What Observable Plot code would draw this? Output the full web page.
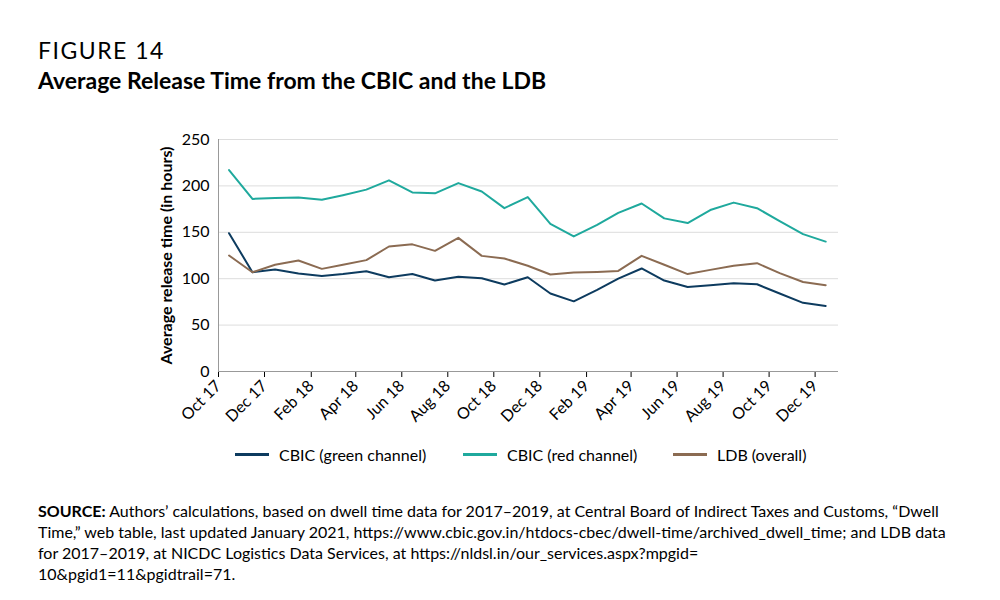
<!DOCTYPE html>
<html><head><meta charset="utf-8">
<script src="https://cdn.jsdelivr.net/npm/d3@7"></script>
<script src="https://cdn.jsdelivr.net/npm/@observablehq/plot@0.6"></script>
<style>
body{margin:0;width:1000px;height:600px;background:#fff;font-family:Lato,"Open Sans",sans-serif;color:#000;position:relative;overflow:hidden}
#fig{position:absolute;left:38px;top:36px;font-size:23px;letter-spacing:1.5px}
#title{position:absolute;left:38px;top:66px;font-size:23px;font-weight:bold}
#chart{position:absolute;left:0;top:120px}
#legend{position:absolute;top:445px;left:0;width:1000px;font-size:16px}
.li{position:absolute;display:flex;align-items:center}
.sw{width:34px;height:2.5px;margin-right:10px}
#src{position:absolute;left:38px;top:500px;width:925px;font-size:16px;line-height:21px}
</style></head><body>
<div id="fig">FIGURE 14</div>
<div id="title">Average Release Time from the CBIC and the LDB</div>
<div id="chart"></div>
<div id="legend"></div>
<div id="src"><b>SOURCE:</b> Authors’ calculations, based on dwell time data for 2017–2019, at Central Board of Indirect Taxes and Customs, “Dwell Time,” web table, last updated January 2021, https://www.cbic.gov.in/htdocs-cbec/dwell-time/archived_dwell_time; and LDB data for 2017–2019, at NICDC Logistics Data Services, at https://nldsl.in/our_services.aspx?mpgid=<br>10&amp;pgid1=11&amp;pgidtrail=71.</div>
<script>
const months = d3.range(27).map(i => new Date(2017, 9 + i, 15));
const seriesNames = ["CBIC (green channel)", "CBIC (red channel)", "LDB (overall)"];
const colors = ["#0d3b5f", "#1fa99d", "#8b6b52"];
const green = [149,107,110,105.5,103,105,108,101.5,105,98,102,100.5,93.7,101.5,84,75.6,88,100,111,98,91,93,95,94,84,74,70.6];
const red = [217,186,187,187.5,185,190,196,206,193,192,203,194,176,188,159,145.5,158,171,181,165,160,174,182,176,162,148,140];
const ldb = [125,107,115,119.6,110.6,115,120,134.7,137,130,144,124.6,121.8,114,104.5,106.6,107.3,108.4,124.6,115,105,109.5,114,116.7,106,96.5,93];
const tickDates = d3.range(14).map(i => new Date(2017, 9 + 2*i, 1));
const fmt = d3.timeFormat("%b %y");

const data = [];
[green, red, ldb].forEach((arr, s) => arr.forEach((v, i) => data.push({date: months[i], value: v, series: seriesNames[s]})));

const plot = Plot.plot({
  width: 1000, height: 320,
  marginLeft: 218, marginRight: 162, marginTop: 19, marginBottom: 69,
  style: {fontFamily: "Lato, 'Open Sans', sans-serif", fontSize: "16px", color: "#000"},
  x: {type: "utc", domain: [new Date(2017, 9, 1), new Date(2020, 0, 1)], ticks: tickDates, tickFormat: fmt, tickRotate: -45, label: null, tickSize: 6},
  y: {domain: [0, 250], ticks: [0,50,100,150,200,250], label: "Average release time (in hours)", labelArrow: "none", labelAnchor: "center", labelOffset: 58, tickSize: 0},
  color: {domain: seriesNames, range: colors},
  marks: [
    Plot.gridY([50,100,150,200,250], {stroke: "#ddd", strokeOpacity: 1}),
    Plot.ruleY([0], {stroke: "#999"}),
    Plot.ruleX([new Date(2017, 9, 1)], {stroke: "#999"}),
    Plot.line(data, {x: "date", y: "value", stroke: "series", strokeWidth: 2})
  ]
});
plot.querySelectorAll('[aria-label="y-axis label"] text').forEach(t => {t.style.fontWeight = "bold"; t.style.fontSize = "16px";});
document.getElementById("chart").appendChild(plot);

const lg = document.getElementById("legend");
const pos = [235, 463, 673];
seriesNames.forEach((n, i) => {
  const d = document.createElement("div"); d.className = "li"; d.style.left = pos[i] + "px";
  d.innerHTML = `<span class="sw" style="background:${colors[i]}"></span>${n}`;
  lg.appendChild(d);
});
</script>
</body></html>
